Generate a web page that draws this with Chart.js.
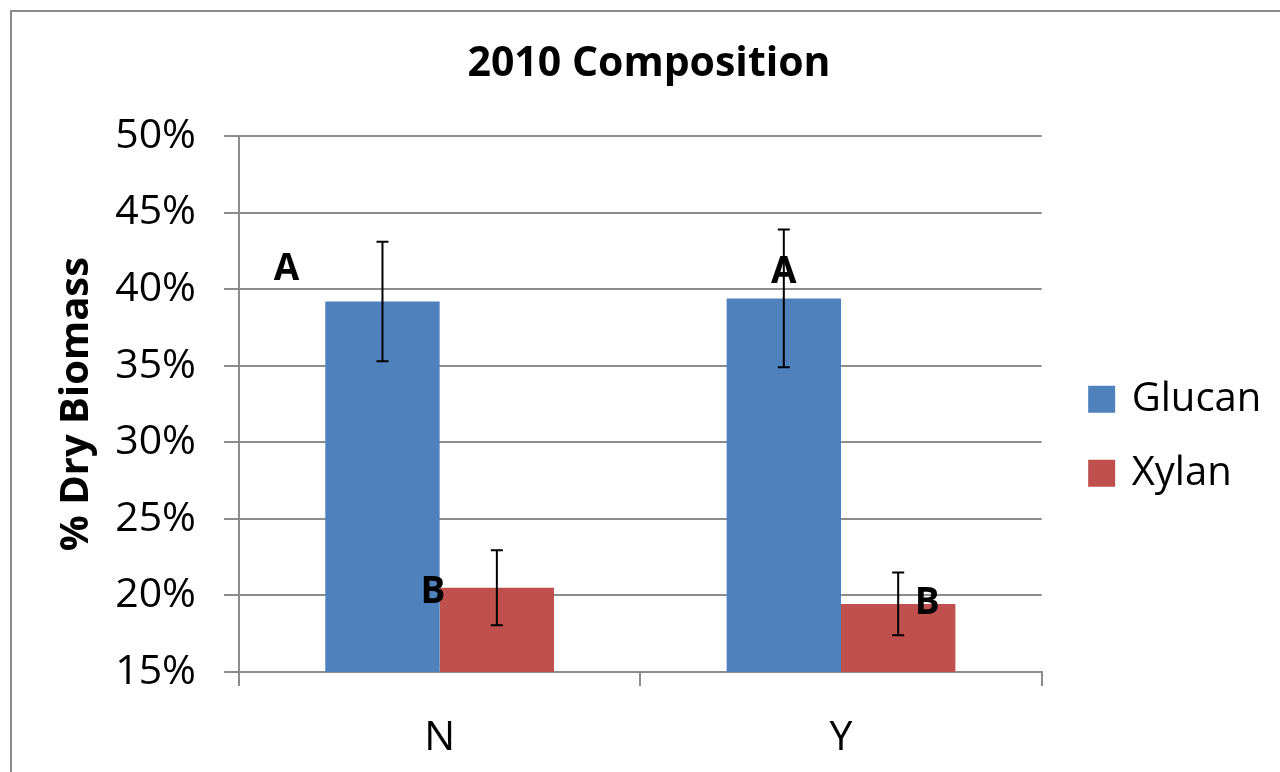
<!DOCTYPE html>
<html>
<head>
<meta charset="utf-8">
<script src="https://cdn.jsdelivr.net/npm/chart.js@4.4.1/dist/chart.umd.min.js"></script>
<style>
  html, body { margin: 0; padding: 0; background: #fff; }
</style>
</head>
<body>
<canvas id="chart" width="1280" height="772"></canvas>
<script>
const categories = ['N', 'Y'];
const glucan = [39.2, 39.4];
const glucanErr = [3.9, 4.5];
const xylan = [20.5, 19.45];
const xylanErr = [2.45, 2.05];
const glucanLetters = ['A', 'A'];
const xylanLetters = ['B', 'B'];
const yTicks = [15, 20, 25, 30, 35, 40, 45, 50];

const FONT = "'Open Sans', 'DejaVu Sans', sans-serif";
const GRID = '#8c8c8c';

// letter label offsets from the top-centre of each bar (px)
const letterOffsets = [
  [[-96, -32], [0, -26]],
  [[-64, 5], [29, 0]],
];

const frame = {
  id: 'frame',
  beforeDraw(chart) {
    const ctx = chart.ctx;
    ctx.save();
    ctx.fillStyle = '#fff';
    ctx.fillRect(0, 0, chart.width, chart.height);
    ctx.strokeStyle = '#8a8a8a';
    ctx.lineWidth = 2;
    ctx.strokeRect(11, 11, chart.width + 50, chart.height + 50);
    ctx.restore();
  },
};

const errorBars = {
  id: 'errorBars',
  afterDatasetsDraw(chart) {
    const ctx = chart.ctx;
    const y = chart.scales.y;
    ctx.save();
    ctx.strokeStyle = '#000';
    ctx.lineWidth = 2;
    chart.data.datasets.forEach((ds, i) => {
      chart.getDatasetMeta(i).data.forEach((bar, j) => {
        const top = y.getPixelForValue(ds.data[j] + ds.errors[j]);
        const bot = y.getPixelForValue(ds.data[j] - ds.errors[j]);
        ctx.beginPath();
        ctx.moveTo(bar.x, top);
        ctx.lineTo(bar.x, bot);
        ctx.moveTo(bar.x - 6, top);
        ctx.lineTo(bar.x + 6, top);
        ctx.moveTo(bar.x - 6, bot);
        ctx.lineTo(bar.x + 6, bot);
        ctx.stroke();
      });
    });
    ctx.restore();
  },
};

const letters = {
  id: 'letters',
  afterDraw(chart) {
    const ctx = chart.ctx;
    ctx.save();
    ctx.fillStyle = '#000';
    ctx.font = 'bold 37px ' + FONT;
    ctx.textAlign = 'center';
    ctx.textBaseline = 'middle';
    chart.data.datasets.forEach((ds, i) => {
      chart.getDatasetMeta(i).data.forEach((bar, j) => {
        const [dx, dy] = letterOffsets[i][j];
        ctx.fillText(ds.letters[j], bar.x + dx, bar.y + dy);
      });
    });
    ctx.restore();
  },
};

// move the legend down next to the bars
const legendShift = {
  id: 'legendShift',
  afterLayout(chart) {
    const lg = chart.legend;
    const dy = chart.chartArea.top + 209 - lg.top;
    lg.top += dy;
    lg.bottom += dy;
  },
};

new Chart(document.getElementById('chart'), {
  type: 'bar',
  data: {
    labels: categories,
    datasets: [
      {
        label: 'Glucan',
        data: glucan,
        errors: glucanErr,
        letters: glucanLetters,
        backgroundColor: '#4f81bd',
        borderWidth: 0,
        categoryPercentage: 0.57,
        barPercentage: 1.0,
      },
      {
        label: 'Xylan',
        data: xylan,
        errors: xylanErr,
        letters: xylanLetters,
        backgroundColor: '#c0504d',
        borderWidth: 0,
        categoryPercentage: 0.57,
        barPercentage: 1.0,
      },
    ],
  },
  options: {
    responsive: false,
    animation: false,
    devicePixelRatio: 1,
    layout: { padding: { left: 36, right: 18, top: 0, bottom: 0 } },
    plugins: {
      title: {
        display: true,
        text: '2010 Composition',
        color: '#000',
        font: { family: FONT, size: 41, weight: 'bold' },
        padding: { top: 40, bottom: 47 },
      },
      legend: {
        position: 'right',
        align: 'start',
        labels: {
          color: '#000',
          font: { family: FONT, size: 40 },
          usePointStyle: true,
          pointStyle: 'rect',
          boxWidth: 20,
          boxHeight: 27,
          padding: 34,
        },
      },
      tooltip: { enabled: false },
    },
    scales: {
      x: {
        afterFit(scale) {
          scale.height = 100;
        },
        grid: {
          offset: true,
          drawOnChartArea: false,
          color: GRID,
          lineWidth: 2,
          tickLength: 14,
        },
        border: { color: GRID, width: 2 },
        ticks: {
          color: '#000',
          font: { family: FONT, size: 41, lineHeight: 1 },
          padding: 32,
        },
      },
      y: {
        min: 15,
        max: 50,
        afterBuildTicks(scale) {
          scale.ticks = yTicks.map((v) => ({ value: v }));
        },
        afterFit(scale) {
          scale.width = 203;
        },
        grid: { color: GRID, lineWidth: 2, tickLength: 15 },
        border: { color: GRID, width: 2 },
        ticks: {
          color: '#000',
          font: { family: FONT, size: 41 },
          padding: 28,
          callback: (v) => v + '%',
        },
        title: {
          display: true,
          text: '% Dry Biomass',
          color: '#000',
          font: { family: FONT, size: 40, weight: 'bold' },
          padding: { top: 17, bottom: 0 },
        },
      },
      y2: {
        position: 'right',
        display: true,
        grid: { display: false },
        border: { display: false },
        ticks: { display: false },
        afterFit(scale) {
          scale.width = 16;
        },
      },
    },
  },
  plugins: [frame, errorBars, letters, legendShift],
});
</script>
</body>
</html>
